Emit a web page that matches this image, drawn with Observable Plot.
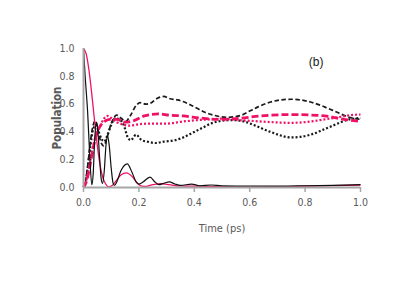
<!DOCTYPE html>
<html>
<head>
<meta charset="utf-8">
<script src="https://cdn.jsdelivr.net/npm/d3@7"></script>
<script src="https://cdn.jsdelivr.net/npm/@observablehq/plot@0.6"></script>
<style>
  html, body { margin: 0; padding: 0; background: #fff; }
  #chart { width: 415px; height: 294px; }
</style>
</head>
<body>
<div id="chart"></div>
<script>
// ---- data ----
const xTicks = [0, 0.2, 0.4, 0.6, 0.8, 1.0];
const yTicks = [0, 0.2, 0.4, 0.6, 0.8, 1.0];
const panelLabel = "(b)";
const xLabel = "Time (ps)";
const yLabel = "Population";

const blackSolidT = [0, 0.006, 0.015, 0.022, 0.03, 0.035, 0.04, 0.046, 0.052, 0.058, 0.064, 0.069, 0.075, 0.081, 0.087, 0.093, 0.1, 0.107, 0.112, 0.12, 0.135, 0.158, 0.175, 0.19, 0.2, 0.215, 0.24, 0.258, 0.272, 0.29, 0.31, 0.33, 0.35, 0.39, 0.42, 0.46, 0.5, 0.6, 0.7, 0.8, 0.9, 1.0];
const blackSolidP = [1.0, 0.8, 0.54, 0.25, 0.02, 0.1, 0.33, 0.47, 0.4, 0.22, 0.06, 0.03, 0.12, 0.3, 0.37, 0.3, 0.14, 0.03, 0.015, 0.04, 0.12, 0.17, 0.11, 0.04, 0.025, 0.04, 0.075, 0.04, 0.02, 0.03, 0.04, 0.025, 0.015, 0.025, 0.012, 0.018, 0.012, 0.01, 0.01, 0.012, 0.015, 0.02];

const pinkSolidT = [0, 0.01, 0.02, 0.03, 0.04, 0.05, 0.06, 0.07, 0.08, 0.09, 0.1, 0.115, 0.135, 0.155, 0.175, 0.195, 0.21, 0.225, 0.25, 0.28, 0.31, 0.34, 0.4, 0.5, 0.6, 0.7, 0.8, 0.9, 1.0];
const pinkSolidP = [1.0, 0.96, 0.84, 0.67, 0.48, 0.3, 0.16, 0.07, 0.025, 0.005, 0.01, 0.04, 0.09, 0.105, 0.08, 0.03, 0.01, 0.008, 0.02, 0.028, 0.02, 0.012, 0.01, 0.006, 0.005, 0.006, 0.01, 0.014, 0.018];

const blackDashT = [0, 0.005, 0.015, 0.025, 0.035, 0.043, 0.052, 0.062, 0.073, 0.085, 0.1, 0.12, 0.135, 0.152, 0.17, 0.19, 0.205, 0.225, 0.24, 0.265, 0.29, 0.31, 0.34, 0.37, 0.4, 0.44, 0.47, 0.52, 0.57, 0.6, 0.63, 0.675, 0.75, 0.82, 0.87, 0.9, 0.96, 1.0];
const blackDashP = [0, 0.02, 0.15, 0.33, 0.45, 0.48, 0.42, 0.33, 0.3, 0.36, 0.46, 0.52, 0.5, 0.475, 0.52, 0.59, 0.61, 0.6, 0.605, 0.64, 0.655, 0.64, 0.63, 0.61, 0.58, 0.54, 0.52, 0.505, 0.52, 0.55, 0.58, 0.615, 0.635, 0.615, 0.58, 0.555, 0.505, 0.49];

const blackDotT = [0, 0.005, 0.015, 0.025, 0.035, 0.045, 0.055, 0.065, 0.075, 0.085, 0.1, 0.115, 0.13, 0.145, 0.16, 0.17, 0.19, 0.21, 0.23, 0.26, 0.29, 0.33, 0.36, 0.39, 0.43, 0.46, 0.5, 0.54, 0.58, 0.62, 0.675, 0.75, 0.82, 0.87, 0.9, 0.96, 1.0];
const blackDotP = [0, 0.02, 0.14, 0.3, 0.42, 0.45, 0.4, 0.35, 0.33, 0.37, 0.45, 0.5, 0.49, 0.45, 0.36, 0.34, 0.38, 0.34, 0.33, 0.32, 0.33, 0.34, 0.36, 0.39, 0.43, 0.46, 0.48, 0.485, 0.475, 0.445, 0.4, 0.36, 0.38, 0.42, 0.445, 0.49, 0.5];

const pinkDashT = [0, 0.01, 0.02, 0.03, 0.04, 0.05, 0.065, 0.08, 0.095, 0.12, 0.15, 0.18, 0.22, 0.27, 0.31, 0.36, 0.42, 0.48, 0.55, 0.64, 0.75, 0.87, 0.94, 1.0];
const pinkDashP = [0, 0.04, 0.12, 0.23, 0.33, 0.4, 0.455, 0.48, 0.49, 0.49, 0.47, 0.48, 0.515, 0.53, 0.52, 0.515, 0.5, 0.49, 0.495, 0.515, 0.525, 0.515, 0.49, 0.475];

const pinkDotT = [0, 0.01, 0.02, 0.03, 0.04, 0.05, 0.06, 0.072, 0.085, 0.1, 0.12, 0.14, 0.165, 0.2, 0.24, 0.3, 0.36, 0.45, 0.5, 0.555, 0.6, 0.68, 0.75, 0.82, 0.87, 0.92, 0.96, 1.0];
const pinkDotP = [0, 0.05, 0.14, 0.25, 0.34, 0.4, 0.44, 0.49, 0.515, 0.5, 0.47, 0.455, 0.445, 0.455, 0.46, 0.46, 0.475, 0.49, 0.495, 0.485, 0.48, 0.47, 0.465, 0.475, 0.49, 0.505, 0.52, 0.525];

// ---- build ----
const pink = "#ee1166";
const axisGray = "#a6a6a6";
const textGray = "#595959";
const fontFam = "'DejaVu Sans Condensed', 'Liberation Sans Narrow', 'Liberation Sans', sans-serif";

const toRows = (T, P) => T.map((t, i) => ({t, p: P[i]}));

const lineOpts = (extra) => Object.assign({x: "t", y: "p", curve: "monotone-x", strokeLinecap: "butt", strokeLinejoin: "round"}, extra);

const chart = Plot.plot({
  width: 415,
  height: 294,
  marginLeft: 83,
  marginRight: 55,
  marginTop: 48,
  marginBottom: 107,
  style: {fontFamily: fontFam, background: "#fff", overflow: "visible"},
  x: {domain: [0, 1]},
  y: {domain: [0, 1]},
  marks: [
    Plot.line(toRows(blackDotT, blackDotP), lineOpts({stroke: "#1a1a1a", strokeWidth: 2.2, strokeDasharray: "2,2"})),
    Plot.line(toRows(blackDashT, blackDashP), lineOpts({stroke: "#1a1a1a", strokeWidth: 1.7, strokeDasharray: "4.5,2.5"})),
    Plot.line(toRows(pinkDotT, pinkDotP), lineOpts({stroke: pink, strokeWidth: 2.2, strokeDasharray: "2,2"})),
    Plot.line(toRows(pinkDashT, pinkDashP), lineOpts({stroke: pink, strokeWidth: 2.8, strokeDasharray: "7,3"})),
    Plot.line(toRows(pinkSolidT, pinkSolidP), lineOpts({stroke: pink, strokeWidth: 1.3})),
    Plot.line(toRows(blackSolidT, blackSolidP), lineOpts({stroke: "#111", strokeWidth: 1.2})),
    Plot.ruleY([0], {stroke: axisGray, strokeWidth: 2}),
    Plot.ruleX([0], {stroke: axisGray, strokeWidth: 2}),
    Plot.axisX(xTicks, {tickSize: 5, stroke: axisGray, strokeWidth: 1.5, tickFormat: d3.format(".1f"), fill: textGray, fontSize: 10.5, tickPadding: 6, label: null}),
    Plot.axisY(yTicks, {tickSize: 0, tickFormat: d3.format(".1f"), fill: textGray, fontSize: 10.5, tickPadding: 9, label: null}),
    Plot.text([xLabel], {frameAnchor: "bottom", dy: 44, fill: textGray, fontSize: 11}),
    Plot.text([yLabel], {frameAnchor: "left", dx: -26, rotate: -90, textAnchor: "middle", fill: textGray, fontSize: 11.5, fontWeight: "bold"}),
    Plot.text([panelLabel], {x: 0.84, y: 0.9, fill: "#222", fontSize: 12, fontFamily: "'Liberation Sans', sans-serif"})
  ]
});
document.getElementById("chart").appendChild(chart);
</script>
</body>
</html>
